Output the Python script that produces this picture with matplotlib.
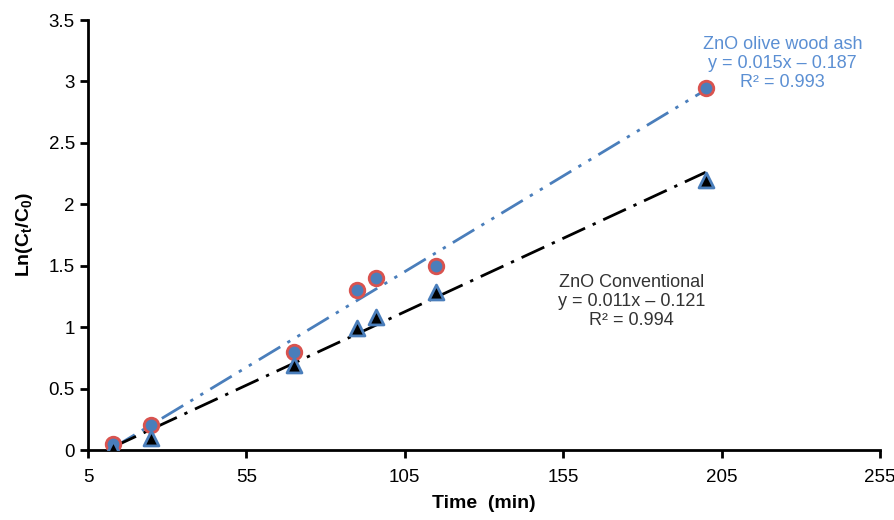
import matplotlib
matplotlib.use("Agg")
import matplotlib.pyplot as plt
import numpy as np

plt.rcParams['font.family'] = ['Liberation Sans', 'DejaVu Sans']
plt.rcParams['mathtext.default'] = 'regular'

time_min = [13, 25, 70, 90, 96, 115, 200]
ln_olive = [0.05, 0.2, 0.8, 1.3, 1.4, 1.5, 2.95]
ln_conv = [0.02, 0.1, 0.69, 0.99, 1.08, 1.29, 2.2]

x_ticks = [5, 55, 105, 155, 205, 255]
y_ticks = [0, 0.5, 1, 1.5, 2, 2.5, 3, 3.5]
y_tick_labels = ['0', '0.5', '1', '1.5', '2', '2.5', '3', '3.5']

blue = '#4a7ebb'
blue_txt = '#5b8fd3'

fig = plt.figure(figsize=(8.95, 5.2), dpi=100)
ax = fig.add_axes([0.0983, 0.1346, 0.8849, 0.8269])

x = np.array(time_min, dtype=float)
xs = np.array([x.min(), x.max()])
p1 = np.polyfit(x, ln_olive, 1)
p2 = np.polyfit(x, ln_conv, 1)

ax.plot(xs, np.polyval(p1, xs), color=blue, lw=2, dashes=[9, 3, 1.2, 3, 1.2, 3], zorder=2)
ax.plot(xs, np.polyval(p2, xs), color='black', lw=2, dashes=[9, 3, 1.2, 3], zorder=2)

ax.scatter(time_min, ln_olive, s=110, marker='o', facecolor=blue, edgecolor='#d9534f', linewidth=2, zorder=3)
ax.scatter(time_min, ln_conv, s=115, marker='^', facecolor='black', edgecolor=blue, linewidth=2, zorder=4)

ax.set_xlim(5, 255)
ax.set_ylim(0, 3.5)
ax.set_xticks(x_ticks)
ax.set_yticks(y_ticks)
ax.set_yticklabels(y_tick_labels)
for s in ['top', 'right']:
    ax.spines[s].set_visible(False)
for s in ['left', 'bottom']:
    ax.spines[s].set_linewidth(2)
ax.tick_params(axis='both', labelsize=13.5, width=2, length=6, direction='out', colors='black')
ax.tick_params(axis='x', pad=8)

ax.set_xlabel('Time  (min)', fontsize=14, fontweight='bold', labelpad=6)
ax.set_ylabel(r'Ln(C$_t$/C$_0$)', fontsize=14, fontweight='bold', labelpad=10)

ax.text(0.877, 0.962, 'ZnO olive wood ash\ny = 0.015x \u2013 0.187\nR\u00b2 = 0.993', transform=ax.transAxes,
        ha='center', va='top', fontsize=13, color=blue_txt, linespacing=1.15)
ax.text(0.686, 0.41, 'ZnO Conventional\ny = 0.011x \u2013 0.121\nR\u00b2 = 0.994', transform=ax.transAxes,
        ha='center', va='top', fontsize=13, color='#333333', linespacing=1.15)

fig.savefig('out.png', dpi=100)
